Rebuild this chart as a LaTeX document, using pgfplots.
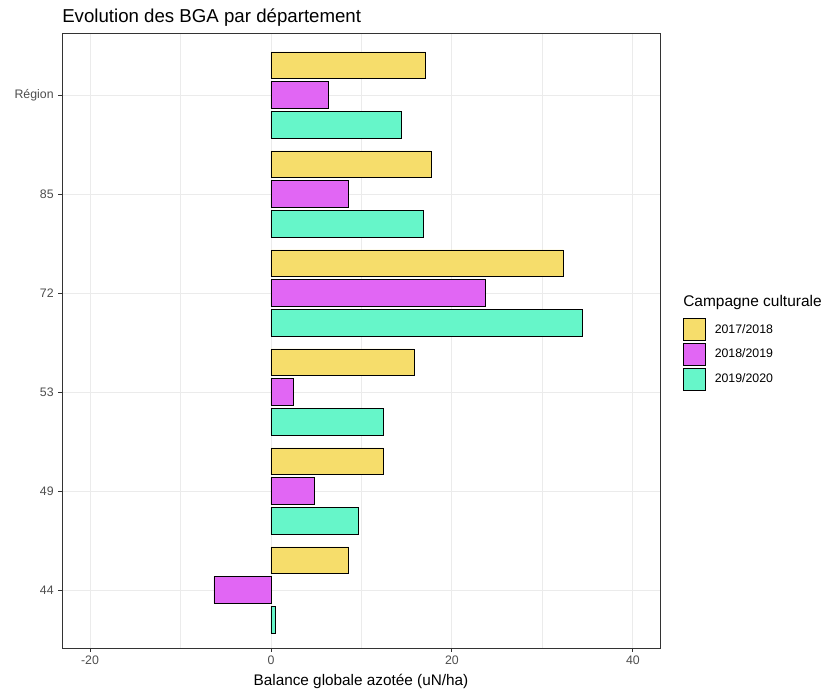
\documentclass[border=0pt]{standalone}
\usepackage{fontspec}
\setmainfont{Liberation Sans}
\usepackage{pgfplots}
\pgfplotsset{compat=1.18}
\definecolor{cA}{HTML}{F6DD6B}
\definecolor{cB}{HTML}{E166F4}
\definecolor{cC}{HTML}{66F6C9}
\definecolor{gridc}{HTML}{EBEBEB}
\definecolor{txt}{HTML}{4D4D4D}
\definecolor{frame}{HTML}{333333}
\begin{document}
\begin{tikzpicture}[x=1pt,y=1pt]
\path[use as bounding box] (0,0) rectangle (615.75,516.75);
\begin{axis}[
  at={(46.5pt,30.75pt)}, anchor=south west,
  scale only axis, width=448.5pt, height=461.25pt,
  xmin=-23.1, xmax=43.0, ymin=0.414, ymax=6.626,
  xbar, bar width=0.27,
  ytick={1,...,6}, yticklabels={44,49,53,72,85,Région},
  xtick={-20,0,20,40}, minor xtick={-10,10,30},
  grid=both,
  major grid style={gridc, line width=0.7pt},
  minor grid style={gridc, line width=0.35pt},
  axis line style={frame, line width=0.7pt},
  tick style={frame, line width=0.7pt},
  tick align=outside, major tick length=2.75pt, minor tick length=0pt,
  xtick pos=bottom, ytick pos=left,
  ticklabel style={font=\fontsize{9.25}{10}\selectfont, text=txt},
  /pgf/number format/assume math mode=true,
  xlabel={Balance globale azotée (uN/ha)},
  xlabel style={font=\fontsize{11.5}{13}\selectfont, at={(axis description cs:0.5,0)}, anchor=base, yshift=-27.75pt},
  legend cell align=left,
  legend style={at={(1.0385,0.5366)}, anchor=north west, draw=none, fill=none,
    font=\fontsize{9.25}{10}\selectfont, inner sep=0pt, row sep=1.5pt,
    /tikz/every odd column/.style={column sep=4.5pt}},
  legend image code/.code={\draw[#1, draw=black, line width=0.6pt] (0pt,-8.25pt) rectangle (16.5pt,8.25pt);},
]
\addplot[fill=cA, draw=black, line width=0.6pt, bar shift=0.3] coordinates {
  (8.6,1) (12.45,2) (15.8,3) (32.3,4) (17.7,5) (17.1,6)};
\addlegendentry{2017/2018}
\addplot[fill=cB, draw=black, line width=0.6pt, bar shift=0] coordinates {
  (-6.3,1) (4.8,2) (2.5,3) (23.7,4) (8.6,5) (6.4,6)};
\addlegendentry{2018/2019}
\addplot[fill=cC, draw=black, line width=0.6pt, bar shift=-0.3] coordinates {
  (0.5,1) (9.65,2) (12.45,3) (34.4,4) (16.9,5) (14.4,6)};
\addlegendentry{2019/2020}
\end{axis}
\node[anchor=base west, inner sep=0pt, font=\fontsize{14}{16}\selectfont] at (46.5,499.5) {Evolution des BGA par département};
\node[anchor=base west, inner sep=0pt, font=\fontsize{11.6}{13}\selectfont] at (512.25,286.5) {Campagne culturale};
\end{tikzpicture}
\end{document}
